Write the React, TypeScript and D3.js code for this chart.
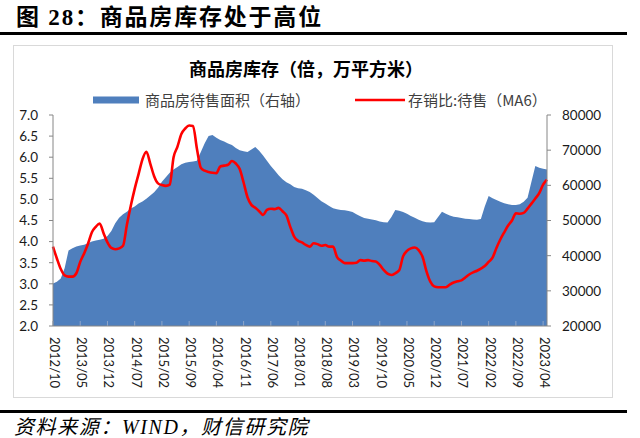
import React, { useEffect } from 'react';
import * as d3 from 'd3';

// Monthly categories 2012/10 .. 2023/05
const categories: string[] = d3
  .timeMonth.range(new Date(2012, 9, 1), new Date(2023, 5, 1))
  .map((d) => d3.timeFormat('%Y/%m')(d));

const xTickLabels = [
  '2012/10', '2013/05', '2013/12', '2014/07', '2015/02', '2015/09', '2016/04',
  '2016/11', '2017/06', '2018/01', '2018/08', '2019/03', '2019/10', '2020/05',
  '2020/12', '2021/07', '2022/02', '2022/09', '2023/04',
];

const leftTicks = [2.0, 2.5, 3.0, 3.5, 4.0, 4.5, 5.0, 5.5, 6.0, 6.5, 7.0];
const rightTicks = [20000, 30000, 40000, 50000, 60000, 70000, 80000];

// 商品房待售面积 (万平方米), right axis
const inventory = [
  32100, 32600, 33500, 36500, 41500, 42100, 42600, 42900, 43100, 43500, 44000, 44300,
  44500, 44800, 45600, 47000, 49200, 50800, 51800, 52500, 53400, 54000, 54800, 55400,
  56200, 57100, 58000, 59300, 61000, 62300, 63600, 64500, 65200, 66000, 66400, 66600,
  66800, 67000, 69500, 72000, 74000, 74300, 73500, 72900, 72500, 71900, 71500, 70600,
  70000, 69700, 69500, 70200, 70900, 69800, 68500, 67000, 65500, 64200, 62900, 61700,
  60900, 60300, 59500, 59200, 59000, 58600, 58100, 57300, 56400, 55500, 54800, 54100,
  53500, 53200, 53000, 52900, 52700, 52400, 51800, 51200, 50700, 50500, 50300, 50100,
  49700, 49500, 49400, 51000, 53000, 52800, 52400, 51900, 51300, 50800, 50200, 49800,
  49500, 49400, 49500, 51000, 52500, 51900, 51400, 51100, 50900, 50700, 50500, 50400,
  50300, 50200, 50400, 54000, 57000, 56300, 55800, 55300, 54900, 54600, 54400, 54400,
  54600, 55300, 56500, 61000, 65500, 65000, 64700, 64500,
];

// 存销比:待售 (MA6), left axis
const ratio = [
  3.88, 3.6, 3.35, 3.2, 3.17, 3.17, 3.25, 3.52, 3.72, 3.95, 4.22, 4.35,
  4.43, 4.2, 3.98, 3.85, 3.82, 3.84, 3.9, 4.4, 4.85, 5.25, 5.6, 5.95,
  6.13, 5.85, 5.55, 5.38, 5.34, 5.32, 5.35, 6.0, 6.25, 6.55, 6.68, 6.75,
  6.74, 6.2, 5.75, 5.68, 5.65, 5.63, 5.62, 5.78, 5.8, 5.82, 5.91, 5.85,
  5.72, 5.4, 5.05, 4.87, 4.8, 4.72, 4.63, 4.75, 4.78, 4.77, 4.8, 4.72,
  4.62, 4.35, 4.12, 4.02, 3.98, 3.92, 3.88, 3.96, 3.94, 3.9, 3.92, 3.88,
  3.88, 3.64, 3.55, 3.49, 3.49, 3.49, 3.5, 3.56, 3.55, 3.56, 3.54, 3.53,
  3.45, 3.33, 3.24, 3.21, 3.25, 3.32, 3.65, 3.78, 3.84, 3.86, 3.8, 3.64,
  3.3, 3.05, 2.94, 2.92, 2.92, 2.92, 2.98, 3.03, 3.06, 3.08, 3.15, 3.22,
  3.27, 3.31, 3.36, 3.42, 3.52, 3.62, 3.85, 4.05, 4.22, 4.38, 4.5, 4.67,
  4.66, 4.68, 4.78, 4.9, 5.02, 5.15, 5.35, 5.47,
];

const W = 640;
const H = 438;
const plot = { left: 53, right: 547, top: 115, bottom: 326 };

const SANS = 'Lato, "Noto Sans CJK SC", sans-serif';
const CJK = '"Noto Sans CJK SC", sans-serif';
const SERIF = '"Liberation Serif", "Noto Sans CJK SC", serif';

export default function App() {
  useEffect(() => {
    document.body.style.margin = '0';
  }, []);

  const x = d3.scalePoint<string>().domain(categories).range([plot.left, plot.right]).padding(0);
  const yL = d3.scaleLinear().domain([2, 7]).range([plot.bottom, plot.top]);
  const yR = d3.scaleLinear().domain([20000, 80000]).range([plot.bottom, plot.top]);

  const areaGen = d3
    .area<number>()
    .x((_, i) => x(categories[i]) as number)
    .y0(yR(20000))
    .y1((d) => yR(d));
  const lineGen = d3
    .line<number>()
    .x((_, i) => x(categories[i]) as number)
    .y((d) => yL(d))
    .curve(d3.curveMonotoneX);

  const axisColor = '#868686';

  return (
    <svg width={W} height={H} style={{ position: 'absolute', left: 0, top: 0, background: '#fff' }}>
      {/* Figure title */}
      <text x={16} y={25} fontFamily={SERIF} fontWeight="bold" fontSize={23} letterSpacing={1.8} fill="#000">
        图 28：商品房库存处于高位
      </text>
      <rect x={0} y={32} width={627} height={3} fill="#000" />

      {/* Chart frame */}
      <rect x={13.5} y={45.5} width={599} height={352} fill="#fff" stroke="#d9d9d9" strokeWidth={1} />

      {/* Chart title */}
      <text x={306} y={76} textAnchor="middle" fontFamily={CJK} fontWeight="bold" fontSize={18} fill="#000">
        商品房库存（倍，万平方米）
      </text>

      {/* Legend */}
      <rect x={93} y={96.5} width={46} height={7} fill="#4F7FBD" />
      <text x={145} y={105.5} fontFamily={CJK} fontSize={15} fill="#404040">
        商品房待售面积（右轴）
      </text>
      <line x1={355} x2={405} y1={100} y2={100} stroke="#FF0000" strokeWidth={2.5} />
      <text x={408} y={105.5} fontFamily={CJK} fontSize={15} fill="#404040">
        存销比:待售（MA6）
      </text>

      {/* Area */}
      <path d={areaGen(inventory) as string} fill="#4F7FBD" />

      {/* X axis ticks (inside) */}
      {xTickLabels.map((lab) => (
        <line key={'xt' + lab} x1={x(lab)} x2={x(lab)} y1={plot.bottom - 5} y2={plot.bottom} stroke="#8FA6C9" strokeWidth={1} />
      ))}

      {/* Ratio line */}
      <path d={lineGen(ratio) as string} fill="none" stroke="#FF0000" strokeWidth={2.6} strokeLinejoin="round" />

      {/* Axes lines */}
      <line x1={plot.left} x2={plot.left} y1={plot.top} y2={plot.bottom} stroke={axisColor} />
      <line x1={plot.right} x2={plot.right} y1={plot.top} y2={plot.bottom} stroke={axisColor} />
      <line x1={plot.left} x2={plot.right} y1={plot.bottom} y2={plot.bottom} stroke={axisColor} />

      {/* Left ticks */}
      {leftTicks.map((t) => (
        <g key={'l' + t}>
          <line x1={plot.left - 4} x2={plot.left} y1={yL(t)} y2={yL(t)} stroke={axisColor} />
          <text x={38} y={yL(t)} dy="0.36em" textAnchor="end" fontFamily={SANS} fontSize={13.5} fill="#1a1a1a">
            {t.toFixed(1)}
          </text>
        </g>
      ))}

      {/* Right ticks */}
      {rightTicks.map((t) => (
        <g key={'r' + t}>
          <line x1={plot.right} x2={plot.right + 4} y1={yR(t)} y2={yR(t)} stroke={axisColor} />
          <text x={562} y={yR(t)} dy="0.36em" textAnchor="start" fontFamily={SANS} fontSize={13.5} fill="#1a1a1a">
            {t}
          </text>
        </g>
      ))}

      {/* X labels rotated */}
      {xTickLabels.map((lab) => {
        const px = (x(lab) as number) + 1.5;
        const py = 337;
        return (
          <text
            key={'xl' + lab}
            x={px}
            y={py}
            transform={`rotate(90, ${px}, ${py})`}
            dy="0.35em"
            textAnchor="start"
            fontFamily={SANS}
            fontSize={13}
            fill="#1a1a1a"
          >
            {lab}
          </text>
        );
      })}

      {/* Bottom rule and source */}
      <rect x={0} y={410} width={627} height={3} fill="#000" />
      <text x={14} y={434} fontFamily={SERIF} fontStyle="italic" fontSize={20} letterSpacing={1.6} fill="#000">
        资料来源：WIND，财信研究院
      </text>
    </svg>
  );
}
